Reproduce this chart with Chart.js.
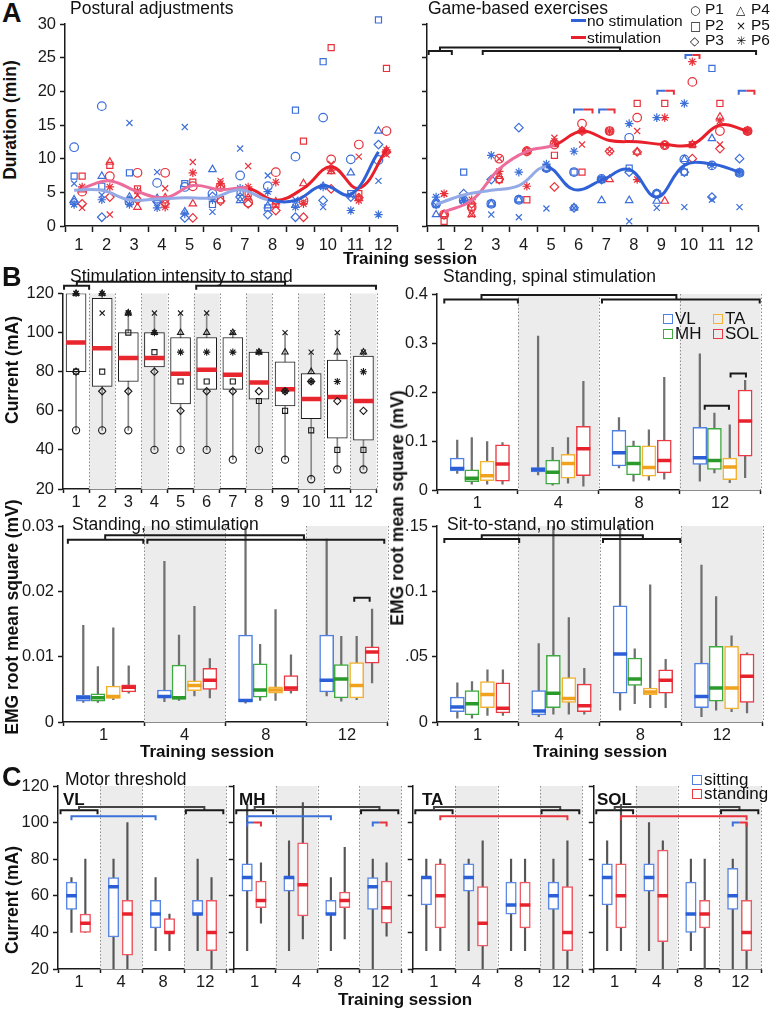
<!DOCTYPE html>
<html lang="en">
<head>
<meta charset="UTF-8">
<title>Training sessions: duration, stimulation intensity, EMG and motor threshold</title>
<script src="https://cdn.jsdelivr.net/npm/chart.js"></script>
<style>
  body { margin: 0; background: #fff; }
  #fig { position: relative; width: 771px; height: 1011px; overflow: hidden;
         font-family: 'Liberation Sans', Arial, sans-serif; color: #111; }
  #fig canvas { position: absolute; }
  .t { position: absolute; white-space: nowrap; font-size: 17.5px; line-height: 1; }
  .b { font-weight: bold; font-size: 17px; }
  .big { font-weight: bold; font-size: 27px; }
  .rot { transform: translate(-50%, -50%) rotate(-90deg); font-weight: bold; font-size: 17.5px; }
  .lg { font-size: 15.5px; }
  .sq { display: inline-block; width: 8px; height: 8px; border: 1.5px solid; margin-right: 2px; }
  .ln { display: inline-block; width: 15px; height: 3px; vertical-align: 4px; margin-right: 1px; }
  .sym { font-family: 'DejaVu Sans', sans-serif; font-size: 12px; display: inline-block; width: 15px; }
</style>
</head>
<body>
<div id="fig">
  <canvas id="durPost"></canvas>
  <canvas id="durGame"></canvas>
  <canvas id="intensity"></canvas>
  <canvas id="emgSpinal"></canvas>
  <canvas id="emgStand"></canvas>
  <canvas id="emgSit"></canvas>
  <canvas id="mtVL"></canvas>
  <canvas id="mtMH"></canvas>
  <canvas id="mtTA"></canvas>
  <canvas id="mtSOL"></canvas>

  <!-- panel A -->
  <div class="t big" style="left:2px;top:0px">A</div>
  <div class="t" style="left:70px;top:0px">Postural adjustments</div>
  <div class="t" style="left:428px;top:0px">Game-based exercises</div>
  <div class="t lg" style="left:571px;top:13px"><span class="ln" style="background:#2f62d6"></span>no stimulation</div>
  <div class="t lg" style="left:571px;top:30px"><span class="ln" style="background:#e8202c"></span>stimulation</div>
  <div class="t lg" style="left:690px;top:1px"><span class="sym">○</span>P1</div>
  <div class="t lg" style="left:690px;top:17px"><span class="sym">□</span>P2</div>
  <div class="t lg" style="left:690px;top:32px"><span class="sym">◇</span>P3</div>
  <div class="t lg" style="left:736px;top:1px"><span class="sym">△</span>P4</div>
  <div class="t lg" style="left:736px;top:17px"><span class="sym">×</span>P5</div>
  <div class="t lg" style="left:736px;top:32px"><span class="sym">✳</span>P6</div>
  <div class="t rot" style="left:11px;top:120px">Duration (min)</div>
  <div class="t b" style="left:343px;top:250px">Training session</div>

  <!-- panel B -->
  <div class="t big" style="left:2px;top:264px">B</div>
  <div class="t" style="left:70px;top:268px">Stimulation intensity to stand</div>
  <div class="t" style="left:443px;top:268px">Standing, spinal stimulation</div>
  <div class="t" style="left:663px;top:310px;font-size:17px"><span class="sq" style="border-color:#4f80e2"></span>VL</div>
  <div class="t" style="left:713px;top:310px;font-size:17px"><span class="sq" style="border-color:#f2b232"></span>TA</div>
  <div class="t" style="left:663px;top:325px;font-size:17px"><span class="sq" style="border-color:#3faa3f"></span>MH</div>
  <div class="t" style="left:713px;top:325px;font-size:17px"><span class="sq" style="border-color:#ea3a44"></span>SOL</div>
  <div class="t rot" style="left:13px;top:370px">Current (mA)</div>
  <div class="t" style="left:72px;top:516px">Standing, no stimulation</div>
  <div class="t" style="left:447px;top:516px">Sit-to-stand, no stimulation</div>
  <div class="t rot" style="left:13px;top:617px">EMG root mean square (mV)</div>
  <div class="t rot" style="left:398px;top:508px">EMG root mean square (mV)</div>
  <div class="t b" style="left:140px;top:743px">Training session</div>
  <div class="t b" style="left:533px;top:743px">Training session</div>

  <!-- panel C -->
  <div class="t big" style="left:2px;top:764px">C</div>
  <div class="t" style="left:65px;top:771px">Motor threshold</div>
  <div class="t b" style="left:63px;top:791px">VL</div>
  <div class="t b" style="left:239px;top:791px">MH</div>
  <div class="t b" style="left:422px;top:791px">TA</div>
  <div class="t b" style="left:597px;top:791px">SOL</div>
  <div class="t" style="left:692px;top:771px;font-size:17px"><span class="sq" style="border-color:#4f80e2"></span>sitting</div>
  <div class="t" style="left:692px;top:785px;font-size:17px"><span class="sq" style="border-color:#ea3a44"></span>standing</div>
  <div class="t rot" style="left:13px;top:900px">Current (mA)</div>
  <div class="t b" style="left:338px;top:991px">Training session</div>
</div>

<script>
// ---------- data ----------
const sessions = [1, 2, 3, 4, 5, 6, 7, 8, 9, 10, 11, 12];
const groupLabels = ['1', '4', '8', '12'];   // sessions shown in the EMG / threshold panels

// A: duration (min), rows P1..P6, one value per session
const postNoStim = [
  [11.7, 17.8, 3.6, 6.4, 5.8, 4.8, 7.5, 5.9, 10.3, 16.1, 9.9, 9.8],
  [7.4, 5.9, 7.9, 3.9, 6.3, 3.2, 5.0, 2.7, 17.2, 24.4, 4.8, 30.6],
  [3.5, 1.3, 3.8, 3.6, 1.2, 4.4, 4.3, 1.7, 1.3, 3.8, 4.3, 12.1],
  [3.9, 7.4, 4.3, 4.1, 2.1, 8.4, 3.8, 3.0, 3.1, 5.9, 7.9, 14.1],
  [6.3, 4.6, 15.3, 8.0, 14.7, 2.1, 11.5, 7.5, 3.9, 2.8, 4.5, 6.7],
  [3.2, 3.9, 3.2, 2.7, 1.8, 3.9, 5.6, 5.1, 2.8, 5.8, 2.3, 1.7]
];
const postStim = [
  [5.1, 7.4, 7.9, 7.9, 5.9, 5.8, 3.5, 8.0, 3.8, 9.9, 12.1, 14.1],
  [7.4, 9.0, 5.5, 3.9, 6.5, 3.9, 4.8, 3.2, 12.6, 26.5, 4.8, 23.4],
  [3.3, 4.3, 3.9, 3.3, 1.2, 3.7, 3.3, 2.3, 1.3, 5.5, 4.2, 11.0],
  [5.4, 9.5, 2.8, 4.2, 3.3, 5.9, 4.2, 3.6, 6.3, 8.1, 4.1, 11.2],
  [2.7, 1.7, 4.6, 5.6, 9.5, 6.7, 8.9, 3.1, 3.6, 9.2, 10.3, 10.6],
  [5.8, 5.8, 5.2, 2.8, 7.9, 6.3, 5.8, 6.5, 3.3, 8.3, 3.8, 11.3]
];
const postNoStimTrend = [5.3, 5.3, 3.9, 4.0, 4.2, 4.2, 5.4, 3.9, 3.8, 6.0, 4.7, 11.0];
const postStimTrend = [5.6, 6.7, 5.1, 4.2, 6.0, 5.4, 5.6, 3.8, 5.6, 8.8, 5.6, 11.3];

const gameNoStim = [
  [3.3, 3.8, 3.3, 3.9, 8.6, 8.0, 7.0, 13.1, 4.8, 9.9, 9.0, 7.9],
  [3.3, 8.0, 3.3, 3.9, 8.6, 8.0, 6.9, 8.6, 4.8, 8.0, 23.4, 7.9],
  [3.3, 4.8, 6.9, 14.6, 8.6, 2.7, 6.9, 8.0, 4.8, 8.0, 4.3, 10.0],
  [1.7, 3.8, 3.3, 3.9, 8.6, 2.7, 3.8, 3.8, 3.7, 9.9, 13.0, 7.9],
  [3.1, 3.8, 1.7, 1.3, 2.6, 2.7, 6.9, 0.7, 2.7, 2.8, 3.9, 2.8],
  [4.3, 3.8, 10.5, 8.0, 9.2, 11.1, 7.0, 15.2, 16.1, 18.2, 9.0, 8.0]
];
const gameStim = [
  [1.7, 2.8, 10.0, 11.1, 12.1, 15.2, 14.1, 16.1, 12.0, 21.4, 14.1, 14.1],
  [0.7, 2.8, 6.9, 3.9, 10.5, 8.0, 14.1, 18.2, 18.2, 12.1, 18.2, 14.1],
  [1.7, 3.3, 6.9, 11.1, 5.8, 14.1, 11.1, 11.0, 12.0, 10.0, 11.5, 14.1],
  [1.7, 1.7, 7.4, 11.1, 12.1, 14.1, 6.9, 11.0, 3.7, 12.1, 16.2, 14.1],
  [4.8, 1.7, 10.0, 11.1, 13.1, 12.1, 11.1, 14.1, 12.0, 12.1, 12.1, 14.1],
  [4.8, 3.9, 8.1, 5.9, 12.6, 14.1, 14.1, 6.9, 16.1, 24.4, 15.6, 14.1]
];
const gameNoStimTrend = [3.2, 4.6, 5.3, 6.0, 8.8, 5.4, 6.8, 8.4, 4.3, 9.0, 9.2, 8.0];
const gameStimTrend = [2.1, 3.8, 8.5, 11.1, 12.0, 14.1, 12.7, 12.5, 12.1, 12.1, 15.0, 14.1];

// B: stimulation intensity to stand (mA)
const intensityMin = [50, 50, 50, 40, 40, 40, 35, 40, 35, 25, 30, 30];
const intensityQ1 = [80, 72.5, 75, 82.5, 63.5, 71, 71, 66, 62.5, 56, 46, 45];
const intensityMedian = [95, 92, 87, 87, 79, 81, 78.5, 74.5, 71, 66, 67, 65];
const intensityQ3 = [120, 117.5, 100, 100, 97.5, 97.5, 97.5, 90, 85, 79, 86, 88];
const intensityMax = [120, 120, 110, 110, 110, 110, 100, 90, 100, 90, 100, 90];
const intensityByParticipant = [
  [50, 50, 50, 40, 40, 40, 35, 40, 35, 25, 30, 30],
  [80, 80, 100, 90, 75, 75, 75, 65, 60, 50, 40, 40],
  [80, 70, 70, 80, 60, 70, 70, 70, 70, 75, 65, 60],
  [120, 120, 110, 100, 100, 100, 100, 90, 90, 80, 90, 90],
  [120, 110, 110, 110, 110, 110, 100, 90, 100, 90, 100, 90],
  [120, 120, 110, 100, 90, 90, 90, 90, 70, 75, 75, 80]
];

// B: EMG RMS (mV), per session group [min, q1, median, q3, max]
const spinalVL = [[0.034, 0.039, 0.044, 0.065, 0.102], [0.031, 0.037, 0.042, 0.046, 0.314], [0.045, 0.049, 0.076, 0.122, 0.148], [0.018, 0.052, 0.066, 0.128, 0.278]];
const spinalMH = [[0.012, 0.017, 0.024, 0.041, 0.107], [0.010, 0.012, 0.036, 0.061, 0.087], [0.018, 0.031, 0.054, 0.090, 0.100], [0.035, 0.042, 0.060, 0.126, 0.157]];
const spinalTA = [[0.012, 0.019, 0.029, 0.059, 0.099], [0.014, 0.024, 0.054, 0.073, 0.107], [0.020, 0.028, 0.046, 0.090, 0.123], [0.015, 0.021, 0.047, 0.065, 0.133]];
const spinalSOL = [[0.012, 0.018, 0.053, 0.092, 0.097], [0.008, 0.029, 0.084, 0.130, 0.222], [0.022, 0.035, 0.060, 0.102, 0.230], [0.025, 0.069, 0.141, 0.204, 0.224]];

const standVL = [[0.0030, 0.0032, 0.0037, 0.0041, 0.0148], [0.0031, 0.0037, 0.0039, 0.0049, 0.0246], [0.0029, 0.0031, 0.0033, 0.0133, 0.031], [0.0040, 0.0046, 0.0064, 0.0133, 0.028]];
const standMH = [[0.0030, 0.0032, 0.0037, 0.0043, 0.0085], [0.0033, 0.0035, 0.0037, 0.0087, 0.0133], [0.0033, 0.0038, 0.0049, 0.0089, 0.0119], [0.0032, 0.0037, 0.0066, 0.0088, 0.0131]];
const standTA = [[0.0034, 0.0036, 0.0039, 0.0055, 0.0144], [0.0040, 0.0048, 0.0056, 0.0063, 0.0177], [0.0033, 0.0044, 0.0049, 0.0054, 0.0172], [0.0034, 0.0037, 0.0056, 0.0091, 0.0131]];
const standSOL = [[0.0044, 0.0046, 0.0053, 0.0057, 0.0086], [0.0037, 0.0050, 0.0064, 0.0082, 0.0097], [0.0044, 0.0048, 0.0052, 0.0071, 0.0103], [0.0060, 0.0090, 0.0107, 0.0115, 0.0173]];

const sitVL = [[0.003, 0.008, 0.0115, 0.019, 0.030], [0.004, 0.0055, 0.0085, 0.024, 0.060], [0.009, 0.022, 0.052, 0.089, 0.155], [0.004, 0.011, 0.0195, 0.045, 0.120]];
const sitMH = [[0.003, 0.0055, 0.014, 0.024, 0.031], [0.006, 0.011, 0.022, 0.051, 0.155], [0.014, 0.028, 0.033, 0.049, 0.056], [0.009, 0.016, 0.026, 0.058, 0.096]];
const sitTA = [[0.005, 0.011, 0.021, 0.031, 0.040], [0.006, 0.015, 0.018, 0.034, 0.080], [0.011, 0.021, 0.023, 0.026, 0.105], [0.008, 0.010, 0.026, 0.058, 0.066]];
const sitSOL = [[0.005, 0.007, 0.0105, 0.030, 0.040], [0.006, 0.008, 0.0125, 0.029, 0.041], [0.011, 0.022, 0.032, 0.040, 0.048], [0.007, 0.015, 0.035, 0.052, 0.053]];

// C: motor threshold (mA), [min, q1, median, q3, max]
const mtVLsit = [[40, 52.5, 60, 67.5, 70], [20, 37.5, 65, 70, 80], [30, 42.5, 50, 57.5, 70], [30, 50, 50, 57.5, 80]];
const mtVLstand = [[40, 40, 45, 50, 80], [20, 27.5, 50, 57.5, 100], [30, 40, 40, 47.5, 50], [20, 30, 40, 57.5, 70]];
const mtMHsit = [[30, 62.5, 70, 77.5, 110], [30, 62.5, 70, 70, 90], [30, 50, 50, 57.5, 70], [20, 52.5, 65, 70, 80]];
const mtMHstand = [[45, 53.5, 57.5, 68, 78], [36.5, 49, 66, 89, 111], [36.5, 53.5, 57.5, 62, 86.5], [38, 45, 53.5, 68, 78]];
const mtTAsit = [[30, 55, 70, 70, 80], [30, 62.5, 70, 77.5, 80], [30, 50, 55, 67.5, 80], [20, 52.5, 60, 67.5, 80]];
const mtTAstand = [[30, 42.5, 60, 77.5, 80], [20, 32.5, 45, 65, 90], [30, 42.5, 55, 67.5, 80], [20, 30, 40, 65, 90]];
const mtSOLsit = [[30, 55, 70, 77.5, 90], [30, 62.5, 70, 77.5, 100], [30, 40, 50, 67.5, 80], [20, 52.5, 60, 75, 80]];
const mtSOLstand = [[30, 42.5, 60, 77.5, 110], [20, 35, 60, 85, 90], [20, 42.5, 50, 57.5, 80], [20, 30, 40, 57.5, 100]];

// ---------- style ----------
const INK = '#1a1a1a';
const BLUE = '#3d6fd9', BLUE_DARK = '#2f62d6', BLUE_PALE = '#93aae6';
const RED = '#e8323c', RED_DARK = '#e8202c', RED_PALE = '#ec6d9b';
const MUSCLE = {
  VL: ['#4f80e2', '#2a5fd8'], MH: ['#3faa3f', '#2a9a2a'],
  TA: ['#f2b232', '#f0a21c'], SOL: ['#ea3a44', '#e8222c']
};
const SHAPES = ['circle', 'rect', 'rectRot', 'triangle', 'crossRot', 'star'];

Chart.defaults.font.family = "'Liberation Sans', Arial, sans-serif";
Chart.defaults.font.size = 16.5;
Chart.defaults.color = INK;
Chart.defaults.animation = false;
Chart.defaults.events = [];
Chart.defaults.plugins.legend.display = false;
Chart.defaults.plugins.tooltip.enabled = false;

// shading, dotted separators and significance brackets, all in data units
const decor = {
  id: 'decor',
  beforeDatasetsDraw(chart, args, o) {
    const { ctx, chartArea: a, scales: { x } } = chart;
    ctx.save();
    ctx.fillStyle = '#ececec';
    (o.shade || []).forEach(([s, e]) => {
      const x0 = x.getPixelForValue(s), x1 = x.getPixelForValue(e);
      ctx.fillRect(x0, a.top, x1 - x0, a.bottom - a.top);
    });
    ctx.strokeStyle = '#8c8c8c';
    ctx.lineWidth = 1;
    ctx.setLineDash([1.5, 2]);
    (o.seps || []).forEach(v => {
      const px = Math.round(x.getPixelForValue(v)) + 0.5;
      ctx.beginPath(); ctx.moveTo(px, a.top); ctx.lineTo(px, a.bottom); ctx.stroke();
    });
    ctx.restore();
  },
  afterDatasetsDraw(chart, args, o) {
    const { ctx, scales: { x, y } } = chart;
    ctx.save();
    ctx.lineWidth = 2;
    (o.brackets || []).forEach(([x0, x1, yv, col, yEnd]) => {
      const p0 = x.getPixelForValue(x0), p1 = x.getPixelForValue(x1);
      const py = y.getPixelForValue(yv);
      const pe = yEnd === undefined ? py + 4 : y.getPixelForValue(yEnd);
      if (Array.isArray(col)) {
        const mid = (p0 + p1) / 2;
        ctx.strokeStyle = col[0];
        ctx.beginPath(); ctx.moveTo(p0, pe); ctx.lineTo(p0, py); ctx.lineTo(mid, py); ctx.stroke();
        ctx.strokeStyle = col[1];
        ctx.beginPath(); ctx.moveTo(mid, py); ctx.lineTo(p1, py); ctx.lineTo(p1, pe); ctx.stroke();
      } else {
        ctx.strokeStyle = col;
        ctx.beginPath(); ctx.moveTo(p0, pe); ctx.lineTo(p0, py); ctx.lineTo(p1, py); ctx.lineTo(p1, pe); ctx.stroke();
      }
    });
    ctx.restore();
  }
};
Chart.register(decor);

// place a chart so that its plot area lands on [left, right, top, bottom] of the page
function mk(id, area, cfg, yw, xh = 26, padT = 14, padR = 10) {
  const c = document.getElementById(id);
  const [l, r, t, b] = area;
  c.width = r - l + yw + padR;
  c.height = b - t + padT + xh;
  c.style.left = (l - yw) + 'px';
  c.style.top = (t - padT) + 'px';
  cfg.options.responsive = false;
  cfg.options.layout = { padding: { top: padT, right: padR, left: 0, bottom: 0 } };
  cfg.options.scales.x.afterFit = s => { s.height = xh; };
  cfg.options.scales.y.afterFit = s => { s.width = yw; };
  return new Chart(c, cfg);
}

function yAxis(min, max, step, fmt, show = true) {
  return {
    min, max,
    ticks: { stepSize: step, display: show, padding: 4, callback: fmt },
    grid: { drawOnChartArea: false, tickLength: 5, tickColor: INK, tickWidth: 1.5 },
    border: { color: INK, width: 1.5 }
  };
}

// linear x axis: tick marks on the boundaries, labels in the middle
function xAxis(lo, hi, label, tickLength = 4, pad = 0) {
  return {
    type: 'linear', min: lo, max: hi, offset: false,
    afterBuildTicks: s => {
      const t = [];
      for (let v = lo; v <= hi + 1e-9; v += 0.5) t.push({ value: v });
      s.ticks = t;
    },
    ticks: { autoSkip: false, maxRotation: 0, padding: pad,
      callback: v => Number.isInteger(v) ? label(v) : '' },
    grid: { offset: false, drawOnChartArea: false, tickLength, tickWidth: 1.5,
      tickColor: c => (c.tick && Number.isInteger(c.tick.value)) ? 'rgba(0,0,0,0)' : INK },
    border: { color: INK, width: 1.5 }
  };
}

// ---------- A: duration ----------
const DX_NO = -0.17, DX_ST = 0.12;

function markers(rows, dx, color) {
  return rows.map((row, p) => ({
    type: 'scatter',
    data: row.map((v, i) => ({ x: sessions[i] + dx, y: v })),
    pointStyle: SHAPES[p], pointRadius: 4.3, pointBorderWidth: 1.2,
    borderColor: color, backgroundColor: 'rgba(0,0,0,0)', clip: 8, order: 2
  }));
}
function trend(vals, dx, dark, pale, paleUntil) {
  return {
    type: 'line',
    data: vals.map((v, i) => ({ x: sessions[i] + dx, y: v })),
    borderColor: dark, borderWidth: 3, pointRadius: 0, tension: 0.4, order: 1,
    segment: { borderColor: c => c.p0DataIndex < paleUntil ? pale : dark }
  };
}
function durationChart(id, area, noStim, stim, noTrend, stTrend, paleNo, paleSt, showY, brackets) {
  const yw = showY ? 40 : 8;
  mk(id, area, {
    type: 'scatter',
    data: { datasets: [
      ...markers(noStim, DX_NO, BLUE), ...markers(stim, DX_ST, RED),
      trend(noTrend, DX_NO, BLUE_DARK, BLUE_PALE, paleNo),
      trend(stTrend, DX_ST, RED_DARK, RED_PALE, paleSt)
    ] },
    options: {
      scales: {
        x: xAxis(0.5, 12.5, v => String(v), 6, 4),
        y: yAxis(0, 30, 5, v => v, showY)
      },
      plugins: { decor: { brackets } }
    }
  }, yw, 30, 14, 8);
}

const TWO = [BLUE, RED];
durationChart('durPost', [65, 397, 24, 226], postNoStim, postStim, postNoStimTrend, postStimTrend, 7, 6, true, []);
durationChart('durGame', [427, 758, 24, 226], gameNoStim, gameStim, gameNoStimTrend, gameStimTrend, 4, 4, false, [
  [0.56, 1.4, 26, INK], [0.97, 7.5, 26.5, INK, 26], [2.52, 12.43, 26, INK],
  [5.83, 6.5, 17.3, TWO], [6.74, 7.3, 17.3, TWO], [8.85, 9.45, 20.1, TWO],
  [9.87, 10.38, 25.4, TWO], [11.8, 12.37, 20.1, TWO]
]);

// ---------- B: stimulation intensity ----------
const everyOther = sessions.filter(s => s % 2 === 0).map(s => [s - 1.5, s - 0.5]);
mk('intensity', [63, 383, 293, 489], {
  type: 'bar',
  data: {
    labels: sessions.map(String),
    datasets: [
      { data: sessions.map((s, i) => [intensityMin[i], intensityMax[i]]),
        backgroundColor: '#8a8a8a', barThickness: 1, grouped: false, order: 4 },
      { data: sessions.map((s, i) => [intensityQ1[i], intensityQ3[i]]),
        backgroundColor: '#fff', borderColor: INK, borderWidth: 1, borderSkipped: false,
        barThickness: 20, grouped: false, order: 3 },
      { type: 'line', data: intensityMedian, showLine: false, pointStyle: 'line',
        pointRadius: 10, pointBorderWidth: 4.5, borderColor: '#e8262e', order: 2 },
      ...intensityByParticipant.map((row, p) => ({
        type: 'line', data: row, showLine: false, pointStyle: SHAPES[p],
        pointRadius: 3.6, pointBorderWidth: 1.1, borderColor: INK,
        backgroundColor: 'rgba(0,0,0,0)', clip: 6, order: 1
      }))
    ]
  },
  options: {
    scales: {
      x: { ticks: { padding: 0, maxRotation: 0, autoSkip: false },
           grid: { drawOnChartArea: false, tickLength: 4, tickColor: INK, tickWidth: 1.5 },
           border: { color: INK, width: 1.5 } },
      y: yAxis(20, 120, 20, v => v)
    },
    plugins: { decor: {
      shade: everyOther,
      seps: sessions.slice(1).map(s => s - 1.5).concat([11.5]),
      brackets: [[-0.46, 0.5, 124, INK], [0.03, 8, 126, INK, 124], [4.6, 11.48, 124, INK]]
    } }
  }
}, 42, 26, 14, 8);

// ---------- B: EMG box plots ----------
const MUSCLE_DX = { VL: -0.25, MH: -0.07, TA: 0.12, SOL: 0.31 };
const GROUP_SHADE = [[1.5, 2.5], [3.5, 4.5]];
const GROUP_SEPS = [1.5, 2.5, 3.5, 4.5];

function boxSets(stats, dx, edge, mid, box, whisker, whiskerColor) {
  const at = i => i + 1 + dx;
  return [
    { type: 'bar', data: stats.map((s, i) => ({ x: at(i), y: [s[0], s[4]] })),
      backgroundColor: whiskerColor, barThickness: whisker, grouped: false, order: 3 },
    { type: 'bar', data: stats.map((s, i) => ({ x: at(i), y: [s[1], s[3]] })),
      backgroundColor: '#fff', borderColor: edge, borderWidth: 1.5, borderSkipped: false,
      barThickness: box, grouped: false, order: 2 },
    { type: 'line', data: stats.map((s, i) => ({ x: at(i), y: s[2] })), showLine: false,
      pointStyle: 'line', pointRadius: box / 2, pointBorderWidth: 3.5, borderColor: mid, order: 1 }
  ];
}
function emgChart(id, area, sets, max, step, fmt, yw, brackets) {
  const datasets = [];
  Object.keys(sets).forEach(m => {
    datasets.push(...boxSets(sets[m], MUSCLE_DX[m], MUSCLE[m][0], MUSCLE[m][1], 14, 1.6, '#707070'));
  });
  mk(id, area, {
    type: 'bar',
    data: { datasets },
    options: {
      scales: {
        x: xAxis(0.5, 4.5, v => groupLabels[v - 1]),
        y: Object.assign(yAxis(0, max, step, fmt), { stacked: false })
      },
      plugins: { decor: { shade: GROUP_SHADE, seps: GROUP_SEPS, brackets } }
    }
  }, yw, 26, 14, 8);
}
const trim = v => v === 0 ? '0' : String(+v.toFixed(3));

emgChart('emgSpinal', [437, 763, 294, 490],
  { VL: spinalVL, MH: spinalMH, TA: spinalTA, SOL: spinalSOL }, 0.4, 0.1, trim, 44, [
    [0.59, 1.5, 0.389, INK], [1.05, 3.46, 0.398, INK, 0.389], [2.54, 4.49, 0.389, INK],
    [3.81, 4.11, 0.172, INK], [4.13, 4.32, 0.238, INK]
  ]);
emgChart('emgStand', [63, 390, 526, 722],
  { VL: standVL, MH: standMH, TA: standTA, SOL: standSOL }, 0.03, 0.01, trim, 50, [
    [0.56, 1.49, 0.0279, INK], [1.02, 3.47, 0.0286, INK, 0.0279], [1.54, 4.46, 0.0279, INK],
    [4.09, 4.28, 0.019, INK]
  ]);
emgChart('emgSit', [437, 765, 526, 722],
  { VL: sitVL, MH: sitMH, TA: sitTA, SOL: sitSOL }, 0.15, 0.05,
  v => v === 0 ? '0' : (Math.abs(v - 0.1) < 1e-9 ? '0.1' : String(+v.toFixed(3)).replace(/^0/, '')), 44, [
    [0.59, 1.51, 0.14, INK], [1.05, 3.03, 0.143, INK, 0.14], [2.54, 3.49, 0.14, INK]
  ]);

// ---------- C: motor threshold ----------
const SIT_DX = -0.18, STAND_DX = 0.15;
function thresholdChart(id, area, sit, stand, showY, brackets) {
  mk(id, area, {
    type: 'bar',
    data: { datasets: [
      ...boxSets(sit, SIT_DX, '#5a88e4', '#2a5fd8', 10.5, 1.5, '#555'),
      ...boxSets(stand, STAND_DX, '#ee5a63', '#e8222c', 10.5, 1.5, '#555')
    ] },
    options: {
      scales: {
        x: xAxis(0.5, 4.5, v => groupLabels[v - 1]),
        y: Object.assign(yAxis(20, 120, 20, v => v, showY), { stacked: false })
      },
      plugins: { decor: { shade: GROUP_SHADE, seps: GROUP_SEPS, brackets } }
    }
  }, showY ? 42 : 8, 26, 14, 8);
}
const B1 = 1 + SIT_DX, B8 = 3 + SIT_DX, B12 = 4 + SIT_DX;
const R1 = 1 + STAND_DX, R12 = 4 + STAND_DX;
const topBrackets = [[0.56, 1.44, 106.7, INK], [1.0, 3.98, 108.5, '#444', 106.7], [3.54, 4.43, 106.7, INK]];

thresholdChart('mtVL', [58, 227, 786, 969], mtVLsit, mtVLstand, true,
  topBrackets.concat([[B1, B8, 103.5, BLUE]]));
thresholdChart('mtMH', [233, 402, 786, 969], mtMHsit, mtMHstand, false,
  topBrackets.concat([[B1, B8, 103.5, BLUE], [B1, R1, 100, TWO], [B12, R12, 100, TWO]]));
thresholdChart('mtTA', [412, 583, 786, 969], mtTAsit, mtTAstand, false,
  topBrackets.concat([[R1, R12, 103.5, RED]]));
thresholdChart('mtSOL', [593, 762, 786, 969], mtSOLsit, mtSOLstand, false,
  topBrackets.concat([[R1, R12, 103.5, RED], [B12, R12, 100, TWO]]));
</script>
</body>
</html>
